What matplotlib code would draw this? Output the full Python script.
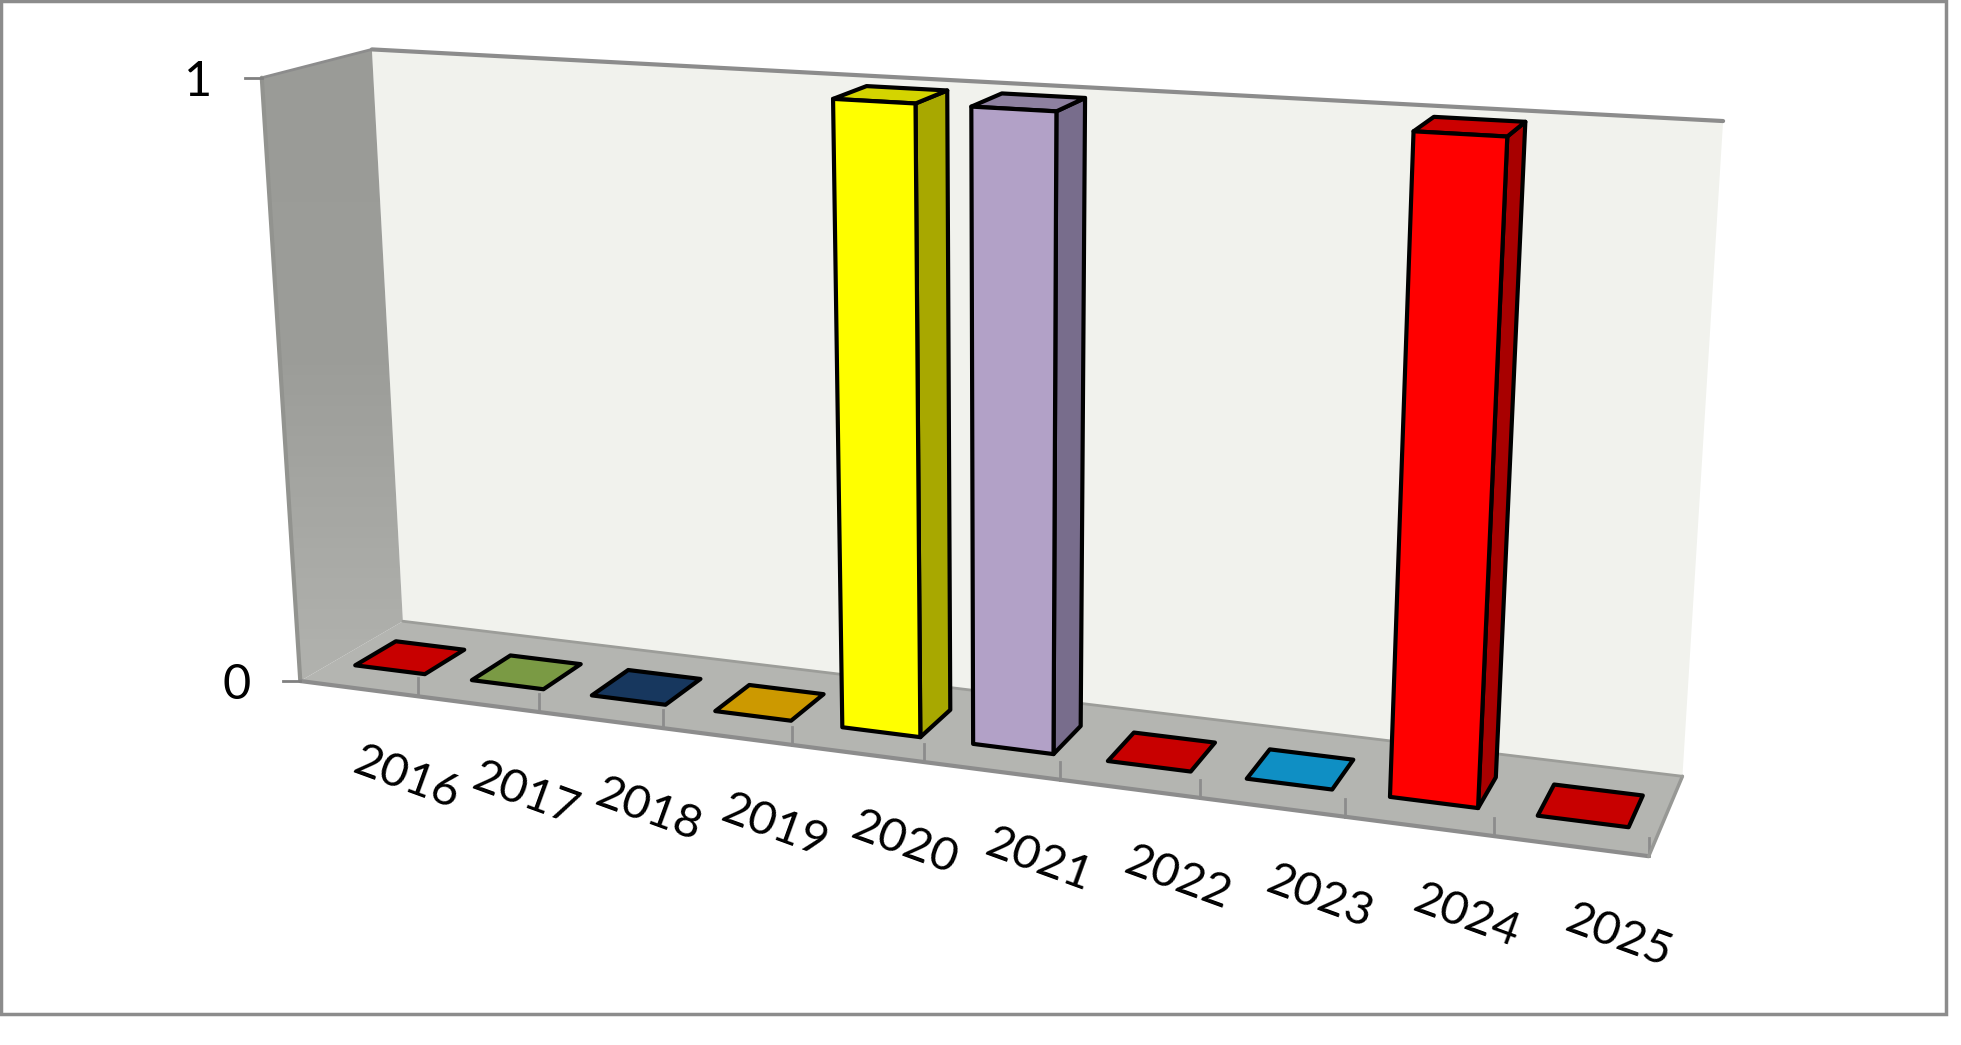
import numpy as np
import matplotlib
matplotlib.use('Agg')
from matplotlib import pyplot as plt
from matplotlib.colors import LinearSegmentedColormap
from matplotlib.patches import Polygon, Rectangle

years = ['2016', '2017', '2018', '2019', '2020', '2021', '2022', '2023', '2024', '2025']
values = [0, 0, 0, 0, 1, 1, 0, 0, 1, 0]
front_colors = ['#c80000', '#7a9a44', '#17375e', '#cc9900', '#ffff00', '#b2a1c7', '#c80000', '#0f8fc4', '#ff0000', '#c80000']
top_colors = ['#c80000', '#7a9a44', '#17375e', '#cc9900', '#d4d400', '#8e81a0', '#c80000', '#0f8fc4', '#cc0000', '#c80000']
side_colors = ['#c80000', '#7a9a44', '#17375e', '#cc9900', '#a8a800', '#786d8c', '#c80000', '#0f8fc4', '#a80000', '#c80000']
y_ticks = [0, 1]

W, H = 1961, 1045
BAR_X = (0.20, 0.80)
BAR_Z = (0.30, 0.70)

# corners of the chart box and some ticks: (category, depth, value) -> picture pixel
box = [
	((0, 0, 0), (302.7, 681)),
	((0, 1, 0), (401.7, 621.7)),
	((10, 0, 0), (1649, 857)),
	((10, 1, 0), (1683, 775)),
	((0, 0, 1), (261, 77)),
	((0, 1, 1), (372.7, 49.3)),
	((10, 1, 1), (1723, 122)),
	((1, 0, 0), (417, 697)),
	((5, 0, 0), (923.3, 762)),
	((6, 0, 0), (1059, 779)),
]


def fit_camera(pairs):
	rows = []
	for (x, z, y), (u, v) in pairs:
		rows.append([x, z, y, 1, 0, 0, 0, 0, -u * x, -u * z, -u * y, -u])
		rows.append([0, 0, 0, 0, x, z, y, 1, -v * x, -v * z, -v * y, -v])
	return np.linalg.svd(np.array(rows, float))[2][-1].reshape(3, 4)


cam = fit_camera(box)


def pr(x, z, y):
	p = cam @ np.array([x, z, y, 1.0])
	return p[0] / p[2], p[1] / p[2]


def face(ax, pts, color, edge='none', lw=0, zorder=2):
	ax.add_patch(Polygon([pr(*p) for p in pts], closed=True, facecolor=color, edgecolor=edge, linewidth=lw, joinstyle='round', zorder=zorder))


def edge(ax, a, b, color='#8c8c8c', lw=2.0, zorder=3):
	pa, pb = pr(*a), pr(*b)
	ax.plot([pa[0], pb[0]], [pa[1], pb[1]], color=color, lw=lw, zorder=zorder, solid_capstyle='round')


fig = plt.figure(figsize=(W / 100, H / 100), dpi=100)
ax = fig.add_axes([0, 0, 1, 1])
ax.axis('off')

ax.add_patch(Rectangle((1, 1), 1945, 1013, fill=False, edgecolor='#8c8c8c', lw=2.5))

n = len(years)

# walls and floor
face(ax, [(0, 1, 0), (n, 1, 0), (n, 1, 1), (0, 1, 1)], '#f1f2ed', zorder=1)
face(ax, [(0, 0, 0), (n, 0, 0), (n, 1, 0), (0, 1, 0)], '#b4b5b1', zorder=1)

# left wall gets lighter towards the floor
wall = Polygon([pr(0, 0, 0), pr(0, 1, 0), pr(0, 1, 1), pr(0, 0, 1)], closed=True, facecolor='none', edgecolor='none', zorder=1)
ax.add_patch(wall)
wall_cmap = LinearSegmentedColormap.from_list('wall', ['#9a9b97', '#9c9d99', '#b2b3af'])
shade = np.linspace(0, 1, 64).reshape(-1, 1)
img = ax.imshow(shade, cmap=wall_cmap, extent=(250, 410, 690, 40), aspect='auto', zorder=1)
img.set_clip_path(wall)

edge(ax, (0, 0, 1), (0, 1, 1))
edge(ax, (0, 1, 1), (n, 1, 1), lw=3)
edge(ax, (0, 0, 0), (0, 0, 1), color='#92938f', lw=3)
edge(ax, (0, 0, 0), (n, 0, 0), lw=3)
edge(ax, (n, 0, 0), (n, 1, 0), color='#979895', lw=2.5)
edge(ax, (0, 1, 0), (n, 1, 0), color='#9c9d99', lw=2.0)

# ticks
for i in range(1, n + 1):
	x0, y0 = pr(i, 0, 0)
	ax.plot([x0, x0], [y0, y0 - 18], color='#8c8c8c', lw=2, zorder=2)
for val in y_ticks:
	x0, y0 = pr(0, 0, val)
	ax.plot([x0 - 17, x0], [y0, y0], color='#808080', lw=2, zorder=3)
	ax.text(x0 - 64, y0 + 4, str(val), fontsize=35, family='Lato', color='black', ha='center', va='center')

# bars
for i, val in enumerate(values):
	x1, x2 = i + BAR_X[0], i + BAR_X[1]
	z1, z2 = BAR_Z
	if val > 0:
		face(ax, [(x2, z1, 0), (x2, z2, 0), (x2, z2, val), (x2, z1, val)], side_colors[i], 'black', 3, zorder=4)
		face(ax, [(x1, z1, val), (x2, z1, val), (x2, z2, val), (x1, z2, val)], top_colors[i], 'black', 3, zorder=4)
		face(ax, [(x1, z1, 0), (x2, z1, 0), (x2, z1, val), (x1, z1, val)], front_colors[i], 'black', 3, zorder=5)
	else:
		face(ax, [(x1, z1, 0), (x2, z1, 0), (x2, z2, 0), (x1, z2, 0)], front_colors[i], 'black', 3, zorder=4)

# labels
for i, year in enumerate(years):
	x0, y0 = pr(i + 0.5, 0, 0)
	ax.text(x0 + 48, y0 + 90, year, fontsize=34, family='Lato', color='black', rotation=-20, rotation_mode='anchor', ha='center', va='center')

ax.set_xlim(0, W)
ax.set_ylim(H, 0)
fig.savefig('out.png', dpi=100)
